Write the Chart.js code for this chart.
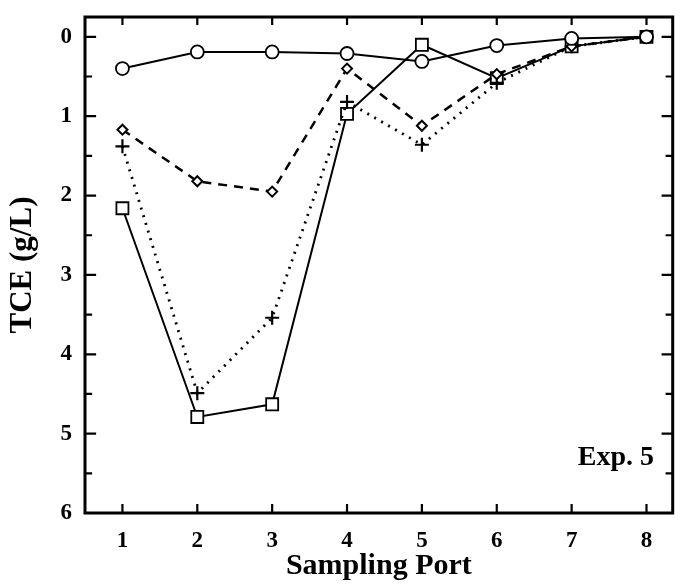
<!DOCTYPE html>
<html><head><meta charset="utf-8">
<script src="https://cdn.jsdelivr.net/npm/chart.js@4/dist/chart.umd.min.js"></script>
<style>html,body{margin:0;padding:0;background:#fff}</style>
</head><body>
<canvas id="c" width="683" height="584"></canvas>
<script>
// ---- data ----
const ports = [1, 2, 3, 4, 5, 6, 7, 8];
const circleSeries  = [0.40, 0.19, 0.19, 0.21, 0.31, 0.11, 0.02, 0.00];
const diamondSeries = [1.17, 1.82, 1.95, 0.40, 1.12, 0.47, 0.12, 0.00];
const plusSeries    = [1.38, 4.49, 3.54, 0.82, 1.36, 0.58, 0.12, 0.00];
const squareSeries  = [2.16, 4.79, 4.63, 0.97, 0.10, 0.52, 0.12, 0.00];
const xTickValues = [1, 2, 3, 4, 5, 6, 7, 8];
const yTickValues = [0, 0.5, 1, 1.5, 2, 2.5, 3, 3.5, 4, 4.5, 5, 5.5, 6];
const yLabelValues = [0, 1, 2, 3, 4, 5, 6];
const xTitle = 'Sampling Port';
const yTitle = 'TCE (g/L)';
const annotationText = 'Exp. 5';

const FONT = "'Liberation Serif', 'DejaVu Serif', serif";
const toXY = arr => arr.map((v, i) => ({x: ports[i], y: v}));

const frame = {
  id: 'frame',
  afterDraw(chart) {
    const {ctx, chartArea: a, scales: {x, y}} = chart;
    ctx.save();
    ctx.strokeStyle = '#000';
    ctx.lineCap = 'square';
    ctx.lineWidth = 2.2;
    x.ticks.forEach(t => {
      const px = x.getPixelForValue(t.value);
      ctx.beginPath();
      ctx.moveTo(px, a.bottom); ctx.lineTo(px, a.bottom - 8);
      ctx.moveTo(px, a.top); ctx.lineTo(px, a.top + 7);
      ctx.stroke();
    });
    y.ticks.forEach(t => {
      const py = y.getPixelForValue(t.value);
      const len = Number.isInteger(t.value) ? 10 : 6;
      ctx.beginPath();
      ctx.moveTo(a.left, py); ctx.lineTo(a.left + len, py);
      ctx.moveTo(a.right, py); ctx.lineTo(a.right - len, py);
      ctx.stroke();
    });
    ctx.lineWidth = 3;
    ctx.strokeRect(a.left, a.top, a.right - a.left, a.bottom - a.top);
    ctx.fillStyle = '#000';
    ctx.font = "bold 28px " + FONT;
    ctx.textAlign = 'right';
    ctx.textBaseline = 'alphabetic';
    ctx.fillText(annotationText, x.getPixelForValue(8.1), y.getPixelForValue(5.4));
    ctx.restore();
  }
};

new Chart(document.getElementById('c'), {
  type: 'line',
  data: {
    datasets: [
      {
        data: toXY(circleSeries), borderColor: '#000', borderWidth: 2,
        pointStyle: 'circle', pointRadius: 6.5, pointBorderWidth: 1.8,
        pointBackgroundColor: '#fff', pointBorderColor: '#000', tension: 0
      },
      {
        data: toXY(diamondSeries), borderColor: '#000', borderWidth: 2.5, borderDash: [9, 7],
        pointStyle: 'rectRot', pointRadius: 5, pointBorderWidth: 2,
        pointBackgroundColor: '#fff', pointBorderColor: '#000', tension: 0
      },
      {
        data: toXY(plusSeries), borderColor: '#000', borderWidth: 2.8, borderDash: [2, 6],
        pointStyle: 'cross', pointRadius: 7, pointBorderWidth: 2.2,
        pointBackgroundColor: '#fff', pointBorderColor: '#000', tension: 0
      },
      {
        data: toXY(squareSeries), borderColor: '#000', borderWidth: 2,
        pointStyle: 'rect', pointRadius: 8.5, pointBorderWidth: 1.8,
        pointBackgroundColor: ['#fff','#fff','#fff','#fff','#fff','#fff','#fff','#000'],
        pointBorderColor: '#000', tension: 0
      }
    ]
  },
  options: {
    responsive: false,
    animation: false,
    devicePixelRatio: 1,
    layout: {padding: {top: 17, right: 8, left: 0, bottom: 0}},
    plugins: {legend: {display: false}, tooltip: {enabled: false}},
    scales: {
      x: {
        type: 'linear', min: 0.5, max: 8.35,
        grid: {display: false}, border: {display: false},
        afterBuildTicks: s => { s.ticks = xTickValues.map(v => ({value: v})); },
        afterFit: s => { s.height = 71; s.paddingLeft = 0; s.paddingRight = 0; },
        ticks: {color: '#000', padding: 6, font: {family: FONT, size: 23, weight: 'bold'},
                callback: v => String(v)},
        title: {display: true, text: xTitle, color: '#000', padding: 0,
                font: {family: FONT, size: 30, weight: 'bold'}}
      },
      y: {
        type: 'linear', reverse: true, min: -0.25, max: 6,
        grid: {display: false}, border: {display: false},
        afterBuildTicks: s => { s.ticks = yTickValues.map(v => ({value: v})); },
        afterFit: s => { s.width = 85; s.paddingTop = 0; s.paddingBottom = 0; },
        ticks: {color: '#000', padding: 5, font: {family: FONT, size: 23, weight: 'bold'},
                callback: v => yLabelValues.includes(v) ? String(v) : ''},
        title: {display: true, text: yTitle, color: '#000', padding: 4,
                font: {family: FONT, size: 31, weight: 'bold'}}
      }
    }
  },
  plugins: [frame]
});
</script>
</body></html>
